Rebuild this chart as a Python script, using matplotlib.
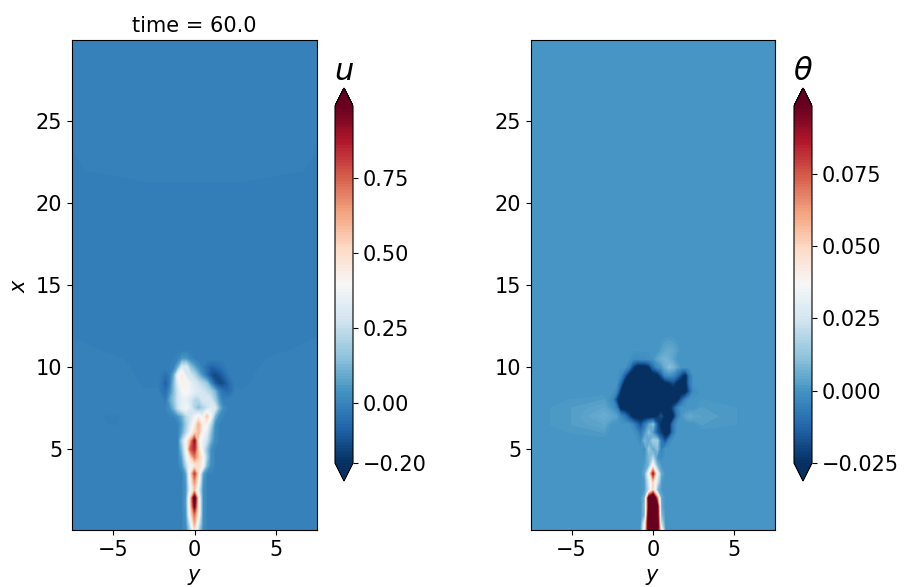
import numpy as np
import matplotlib
matplotlib.use('Agg')
import matplotlib.pyplot as plt

# rows along x, columns along y (fine spacing only around the plume)
x_rows = [0.05, 0.5, 1, 1.5, 2, 2.5, 3, 3.5, 4, 4.5, 5, 5.5, 6, 6.5, 7, 7.5, 8, 8.5,
          9, 9.5, 10, 10.5, 11, 12, 14, 21, 22, 30]
y_outer = [-7.5, -5, -3, 3, 5, 7.5]
y_inner = list(np.arange(-2.5, 2.51, 0.25))

# background at y_outer for each row, last entry is the value near the axis
u_back = [
    [0, 0, 0, 0, 0, 0, 0], [0, 0, 0, 0, 0, 0, 0], [0, 0, 0, 0, 0, 0, 0], [0, 0, 0, 0, 0, 0, 0],
    [0, 0, 0, 0, 0, 0, 0], [0, 0, 0, 0, 0, 0, 0], [0, 0, 0, 0, 0, 0, 0], [0, 0, 0, 0, 0, 0, 0],
    [0, 0, 0, 0, 0, 0, 0], [0, 0, 0, 0, 0, 0, 0], [0, 0, 0, 0, 0, 0, 0], [0, 0, 0, 0, 0, 0, 0],
    [0, 0, 0, 0, 0, 0, 0], [0, -0.012, 0, 0, 0, 0, 0], [0, -0.014, 0, 0, 0, 0, 0], [0, 0, 0, 0, 0, 0, 0],
    [0, 0, -0.004, -0.004, 0, 0, -0.004], [-0.002, -0.002, -0.009, -0.009, -0.002, -0.002, -0.009],
    [-0.002, -0.003, -0.012, -0.012, -0.003, -0.002, -0.012], [-0.003, -0.004, -0.013, -0.013, -0.004, -0.003, -0.013],
    [-0.004, -0.006, -0.014, -0.014, -0.006, -0.004, -0.014], [-0.005, -0.008, -0.015, -0.015, -0.008, -0.005, -0.015],
    [-0.006, -0.012, -0.015, -0.015, -0.012, -0.006, -0.015], [-0.011, -0.015, -0.016, -0.016, -0.015, -0.011, -0.016],
    [-0.016, -0.017, -0.018, -0.018, -0.017, -0.016, -0.018], [-0.02, -0.015, -0.012, -0.012, -0.015, -0.02, -0.012],
    [-0.011, -0.008, -0.006, -0.006, -0.008, -0.011, -0.006], [-0.005, -0.005, -0.005, -0.005, -0.005, -0.005, -0.005],
]
theta_back = [[0, 0, 0, 0, 0, 0, 0]] * 12 + [
    [0, 0.001, 0.002, 0, 0, 0, 0], [0, 0.002, 0.004, 0.002, 0.001, 0, 0], [0, 0.002, 0.006, 0.003, 0.001, 0, 0],
    [0, 0.002, 0.004, 0.002, 0.001, 0, 0], [0, 0.001, 0.002, 0.001, 0, 0, 0], [0, 0, 0, 0, 0, 0, 0],
    [0, 0, 0, 0, 0, 0, 0], [0, 0, 0, 0, 0, 0, 0], [0, 0, 0, 0, 0, 0, 0], [0, 0, 0, 0, 0, 0, 0],
    [0, 0, 0, 0, 0, 0, 0], [0, 0, 0, 0, 0, 0, 0], [0, 0, 0, 0, 0, 0, 0], [0, 0, 0, 0, 0, 0, 0],
    [0, 0, 0, 0, 0, 0, 0], [0, 0, 0, 0, 0, 0, 0],
]

# plume values: (x, first y, values every 0.25 in y)
u_plume = [
    (0.05, -0.5, [0.02, 0.2, 0.5, 0.2, 0.02]),
    (0.5, -0.5, [0.03, 0.3, 0.62, 0.3, 0.03]),
    (1, -0.5, [0.05, 0.45, 0.72, 0.4, 0.03]),
    (1.5, -0.5, [0.06, 0.5, 0.95, 0.42, 0.03]),
    (2, -0.5, [0.06, 0.52, 1.05, 0.42, 0.03]),
    (2.5, -0.5, [0.05, 0.35, 0.55, 0.3, 0.03]),
    (3, -0.5, [0.06, 0.4, 0.65, 0.4, 0.05]),
    (3.5, -0.5, [0.08, 0.45, 0.8, 0.45, 0.08]),
    (4, -0.75, [0.04, 0.22, 0.4, 0.45, 0.5, 0.4, 0.12, 0.02]),
    (4.5, -0.75, [0.08, 0.32, 0.5, 0.7, 0.55, 0.42, 0.18, 0.03]),
    (5, -0.75, [0.14, 0.38, 0.75, 0.85, 0.5, 0.32, 0.15, 0.03]),
    (5.5, -0.75, [0.2, 0.4, 0.6, 0.9, 0.42, 0.35, 0.26, 0.1, 0.02]),
    (6, -0.75, [0.08, 0.22, 0.35, 0.5, 0.58, 0.4, 0.32, 0.14, 0.02]),
    (6.5, -0.75, [0.06, 0.18, 0.3, 0.42, 0.6, 0.42, 0.4, 0.22, 0.03]),
    (7, -1, [0.04, 0.1, 0.22, 0.28, 0.35, 0.42, 0.34, 0.55, 0.38, 0.12, 0.02]),
    (7.5, -1.5, [0.03, 0.12, 0.26, 0.35, 0.38, 0.3, 0.2, 0.12, 0.2, 0.25, 0.32, 0.3, 0.12, 0.02]),
    (8, -1.75, [-0.03, 0.08, 0.16, 0.28, 0.34, 0.34, 0.28, 0.22, 0.22, 0.28, 0.3, 0.28, 0.18, 0.05, -0.02]),
    (8.5, -2, [-0.04, -0.06, 0.02, 0.14, 0.28, 0.38, 0.4, 0.36, 0.32, 0.3, 0.28, 0.25, 0.2, 0.12, 0, -0.05, -0.07, -0.05]),
    (9, -2, [-0.05, -0.1, -0.02, 0.14, 0.32, 0.42, 0.42, 0.34, 0.3, 0.26, 0.22, 0.16, 0.02, -0.1, -0.14, -0.14, -0.1, -0.05]),
    (9.5, -2, [-0.03, -0.06, -0.02, 0.1, 0.38, 0.44, 0.3, 0.28, 0.22, 0.12, 0.03, -0.05, -0.12, -0.15, -0.13, -0.09, -0.05, -0.02]),
    (10, -1.75, [-0.01, -0.01, 0, 0.1, 0.3, 0.3, 0.15, 0.08, 0.02, -0.02, -0.06, -0.09, -0.08, -0.06, -0.04, -0.02]),
    (10.5, -1.25, [-0.01, 0, 0.05, 0.05, 0.01, -0.01, -0.02, -0.02, -0.01]),
]
theta_plume = [
    (0.05, -0.75, [0.001, 0.04, 0.11, 0.11, 0.11, 0.04, 0.001]),
    (0.5, -0.5, [0.03, 0.115, 0.115, 0.115, 0.02]),
    (1, -0.5, [0.01, 0.11, 0.13, 0.11, 0.01]),
    (1.5, -0.5, [0.01, 0.1, 0.13, 0.105, 0.005]),
    (2, -0.5, [0.008, 0.105, 0.13, 0.07, 0.005]),
    (2.5, -0.5, [0.002, 0.02, 0.05, 0.01, 0.001]),
    (3, -0.5, [0.002, 0.025, 0.05, 0.025, 0.002]),
    (3.5, -0.5, [0.005, 0.035, 0.085, 0.035, 0.005]),
    (4, -0.5, [0.002, 0.008, 0.035, 0.008, 0.001]),
    (4.5, -0.5, [0, 0.008, 0.015, 0, -0.003]),
    (5, -0.5, [-0.002, 0.012, 0.003, 0.01, -0.006]),
    (5.5, -0.75, [-0.003, 0.008, 0.003, 0.014, 0.015, -0.008, -0.018, -0.004]),
    (6, -1, [-0.003, -0.008, 0, 0.01, 0, -0.015, -0.022, -0.03, -0.028, -0.008]),
    (6.5, -1.25, [-0.004, -0.012, -0.018, -0.008, 0.003, 0.01, -0.015, -0.028, -0.03, -0.028, -0.008]),
    (7, -2.5, [0.004, 0.003, -0.003, -0.008, -0.018, -0.028, -0.03, -0.03, -0.03, -0.03, -0.03, -0.025, -0.018, -0.028, -0.03, -0.028, -0.008, 0, 0.003, 0.005, 0.004]),
    (7.5, -2.5, [0, -0.005, -0.028, -0.03, -0.03, -0.03, -0.03, -0.03, -0.03, -0.03, -0.03, -0.03, -0.03, -0.03, -0.03, -0.018, -0.005]),
    (8, -2.5, [-0.003, -0.02, -0.03, -0.03, -0.03, -0.03, -0.03, -0.03, -0.03, -0.03, -0.03, -0.03, -0.03, -0.03, -0.03, -0.03, -0.03, -0.015, -0.004, 0]),
    (8.5, -2.25, [-0.004, -0.025, -0.03, -0.03, -0.03, -0.03, -0.03, -0.03, -0.03, -0.03, -0.03, -0.03, -0.03, -0.03, -0.03, -0.03, -0.03, -0.03, -0.015, -0.002]),
    (9, -2, [-0.012, -0.03, -0.03, -0.03, -0.03, -0.03, -0.03, -0.03, -0.03, -0.03, -0.03, -0.03, -0.025, -0.02, -0.03, -0.03, -0.03, -0.008]),
    (9.5, -2, [-0.002, -0.014, -0.028, -0.03, -0.03, -0.03, -0.03, -0.03, -0.03, -0.03, -0.018, -0.003, -0.001, -0.003, -0.01, -0.02, -0.028, -0.008]),
    (10, -1.5, [-0.005, -0.02, -0.03, -0.03, -0.03, -0.025, -0.012, -0.003, 0, 0.006, 0.01, 0.008, 0.003]),
    (10.5, -1.25, [-0.002, -0.003, -0.002, -0.002, -0.001, 0, 0.003, 0.006, 0.008, 0.006, 0.003]),
    (11, 0.5, [0.002, 0.004, 0.005, 0.004, 0.002]),
]

u_ticks = [-0.2, 0, 0.25, 0.5, 0.75]
theta_ticks = [-0.025, 0, 0.025, 0.05, 0.075]


def build_field(back, plume):
    y_all = y_outer[:3] + y_inner + y_outer[3:]
    z = np.zeros((len(x_rows), len(y_all)))
    for i, b in enumerate(back):
        z[i, :3] = b[:3]
        z[i, 3:-3] = b[6]
        z[i, -3:] = b[3:6]
    for x, start, vals in plume:
        i = x_rows.index(x)
        k = 3 + int(round((start + 2.5) / 0.25))
        z[i, k:k + len(vals)] = vals
    return y_all, z


def panel(ax_rect, cb_rect, back, plume, vmin, vmax, ticks, fmt, name):
    ax = fig.add_axes(ax_rect)
    y_all, z = build_field(back, plume)
    cs = ax.contourf(y_all, x_rows, z, levels=np.linspace(vmin, vmax, 120), cmap='RdBu_r', extend='both')
    # plume part again with smooth shading (rows 0.5 apart, columns 0.25 apart)
    n = x_rows.index(11) + 1
    ax.imshow(z[:n, 3:-3], origin='lower', aspect='auto', extent=(-2.625, 2.625, -0.25, 11.25),
              cmap='RdBu_r', vmin=vmin, vmax=vmax, interpolation='bicubic')
    ax.set_xlim(-7.5, 7.5)
    ax.set_ylim(0.06, 29.95)
    ax.set_xticks([-5, 0, 5])
    ax.set_yticks([5, 10, 15, 20, 25])
    ax.tick_params(labelsize=15)
    ax.set_xlabel('$y$', fontsize=15, labelpad=5)
    cax = fig.add_axes(cb_rect)
    cb = fig.colorbar(cs, cax=cax, extendfrac=0.05)
    cb.set_ticks(ticks)
    cb.set_ticklabels([(fmt % t).replace('-', '\u2212') for t in ticks])
    cb.ax.tick_params(labelsize=15)
    cax.minorticks_off()
    cax.set_title(name, fontsize=22, pad=6)
    return ax


W, H = 906, 587
fig = plt.figure(figsize=(W / 100, H / 100), dpi=100)
ax1 = panel([72 / W, 1 - 530 / H, 245 / W, 490 / H], [335 / W, 1 - 481 / H, 18 / W, 393 / H],
            u_back, u_plume, -0.2, 0.99, u_ticks, '%.2f', '$u$')
ax1.set_ylabel('$x$', fontsize=15, labelpad=5)
ax1.set_title('time = 60.0', fontsize=15, pad=6)
ax2 = panel([531 / W, 1 - 530 / H, 244 / W, 490 / H], [794 / W, 1 - 481 / H, 18 / W, 393 / H],
            theta_back, theta_plume, -0.025, 0.0985, theta_ticks, '%.3f', r'$\theta$')
fig.savefig('out.png', dpi=100)
